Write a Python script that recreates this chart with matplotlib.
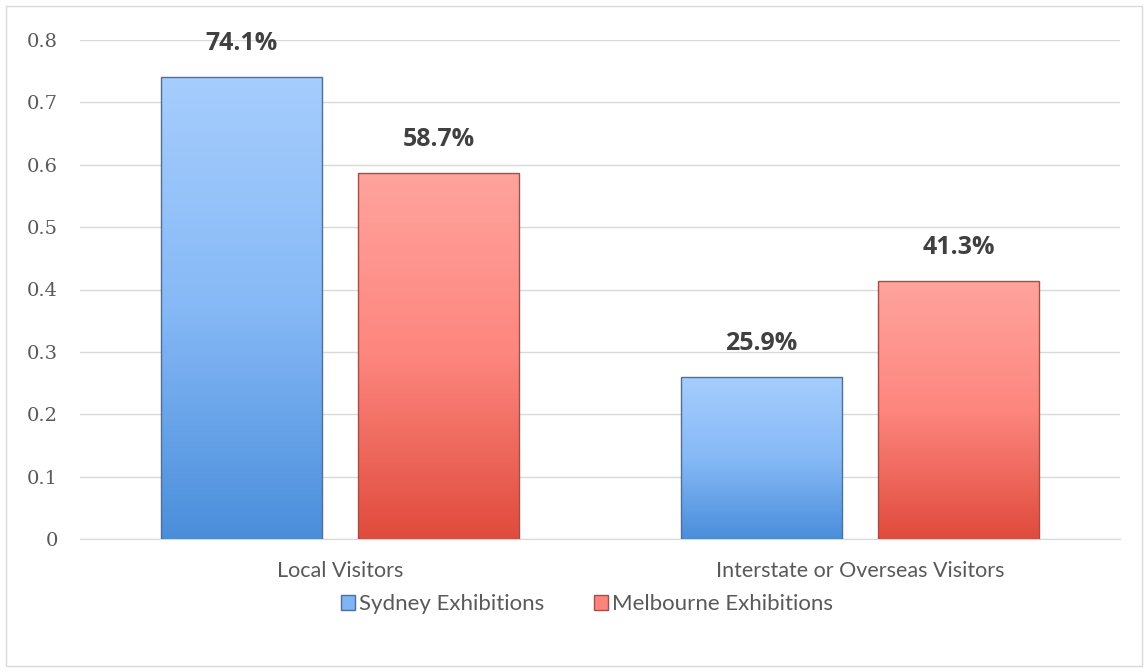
import matplotlib
matplotlib.use("Agg")
import matplotlib.pyplot as plt
import numpy as np
from matplotlib.colors import LinearSegmentedColormap
from matplotlib.patches import Patch, Rectangle

# data
categories = ["Local Visitors", "Interstate or Overseas Visitors"]
series_names = ["Sydney Exhibitions", "Melbourne Exhibitions"]
sydney = [0.741, 0.259]
melbourne = [0.587, 0.413]
yticks = [0, 0.1, 0.2, 0.3, 0.4, 0.5, 0.6, 0.7, 0.8]
ytick_labels = ["0", "0.1", "0.2", "0.3", "0.4", "0.5", "0.6", "0.7", "0.8"]

# gradients (bottom -> top)
blue_cmap = LinearSegmentedColormap.from_list("b", ["#4a8edb", "#86b9f6", "#a6cdfd"])
red_cmap = LinearSegmentedColormap.from_list("r", ["#e04b3c", "#fd867e", "#ffa39d"])
blue_edge = "#4f6f99"
red_edge = "#a0504a"

fig = plt.figure(figsize=(11.48, 6.72), dpi=100)
fig.patches.append(Rectangle((6 / 1148, 6 / 672), 1 - 12 / 1148, 1 - 12 / 672,
                             transform=fig.transFigure, fill=False,
                             edgecolor="#d9d9d9", linewidth=1.0))
ax = fig.add_axes([80 / 1148, 1 - 539 / 672, 1040 / 1148, 499 / 672])

x = np.arange(len(categories))
width = 0.31
offset = 0.19

grad = np.linspace(0, 1, 256).reshape(-1, 1)


def gradient_bars(xpos, vals, cmap, edge):
    bars = ax.bar(xpos, vals, width, color="none", edgecolor=edge, linewidth=1.0, zorder=3)
    for b in bars:
        im = ax.imshow(grad, cmap=cmap, aspect="auto", origin="lower",
                       extent=[b.get_x(), b.get_x() + b.get_width(), 0, b.get_height()],
                       zorder=2)
        im.set_clip_path(b)
    return bars


b1 = gradient_bars(x - offset, sydney, blue_cmap, blue_edge)
b2 = gradient_bars(x + offset, melbourne, red_cmap, red_edge)

for bars, vals in ((b1, sydney), (b2, melbourne)):
    for b, v in zip(bars, vals):
        ax.text(b.get_x() + b.get_width() / 2, v + 0.034, f"{v * 100:.1f}%",
                ha="center", va="bottom", fontsize=18, fontweight="bold",
                color="#404040", family="Open Sans")

ax.set_xlim(-0.5, 1.5)
ax.set_ylim(0, 0.8)
ax.set_yticks(yticks)
ax.set_yticklabels(ytick_labels, family="DejaVu Serif", fontsize=14, color="#595959")
ax.set_xticks(x)
ax.set_xticklabels(categories, family="Lato", fontsize=15.5, color="#595959")
ax.tick_params(axis="both", length=0)
ax.tick_params(axis="y", pad=16)
ax.tick_params(axis="x", pad=16)
ax.grid(axis="y", color="#d9d9d9", linewidth=1.0, zorder=0)
ax.set_axisbelow(True)
for s in ["top", "right", "left"]:
    ax.spines[s].set_visible(False)
ax.spines["bottom"].set_color("#d9d9d9")

handles = [Patch(facecolor="#7fb4f5", edgecolor=blue_edge),
           Patch(facecolor="#fd837b", edgecolor=red_edge)]
fig.legend(handles, series_names, loc="center", bbox_to_anchor=(587 / 1148, 1 - 604 / 672),
           ncol=2, frameon=False, prop={"family": "Lato", "size": 16},
           labelcolor="#595959", handlelength=0.65, handleheight=0.65,
           handletextpad=0.2, columnspacing=2.2)

fig.savefig("out.png", dpi=100)
